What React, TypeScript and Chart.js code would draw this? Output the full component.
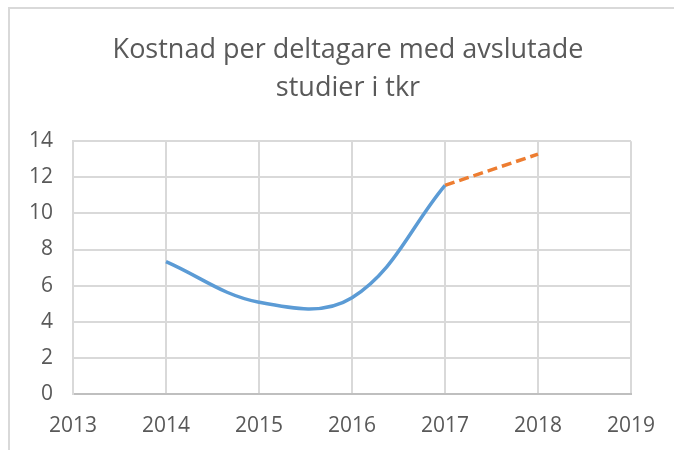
import React, { useEffect, useRef } from "react";
import { Chart, registerables } from "chart.js";

Chart.register(...registerables);

const titleLines = ["Kostnad per deltagare med avslutade", "studier i tkr"];
const actualYears = [2014, 2015, 2016, 2017];
const actualValues = [7.33, 5.08, 5.33, 11.55];
const forecastYears = [2017, 2018];
const forecastValues = [11.55, 13.28];
const xMin = 2013;
const xMax = 2019;
const yMin = 0;
const yMax = 14;
const yStep = 2;

const TEXT = "#595959";
const GRID = "#D9D9D9";
const FONT = "'Open Sans', 'Liberation Sans', Arial, sans-serif";

const framePlugin = {
  id: "frame",
  beforeDraw(chart: any) {
    const ctx = chart.ctx;
    ctx.save();
    ctx.fillStyle = "#ffffff";
    ctx.fillRect(0, 0, chart.width, chart.height);
    ctx.strokeStyle = GRID;
    ctx.lineWidth = 2;
    ctx.beginPath();
    ctx.moveTo(9, chart.height);
    ctx.lineTo(9, 8);
    ctx.lineTo(chart.width, 8);
    ctx.stroke();
    ctx.restore();
  },
};

export default function App() {
  const ref = useRef<HTMLCanvasElement | null>(null);
  useEffect(() => {
    if (!ref.current) return;
    const chart = new Chart(ref.current, {
      type: "line",
      data: {
        datasets: [
          {
            label: "Utfall",
            data: actualYears.map((x, i) => ({ x, y: actualValues[i] })),
            borderColor: "#5B9BD5",
            borderWidth: 3.5,
            pointRadius: 0,
            tension: 0.38,
            fill: false,
          },
          {
            label: "Prognos",
            data: forecastYears.map((x, i) => ({ x, y: forecastValues[i] })),
            borderColor: "#ED7D31",
            borderWidth: 3.5,
            borderDash: [10, 5],
            pointRadius: 0,
            tension: 0,
            fill: false,
          },
        ],
      },
      options: {
        animation: false,
        responsive: false,
        maintainAspectRatio: false,
        layout: { padding: { left: 22, right: 0, top: 0, bottom: 0 } },
        plugins: {
          legend: { display: false },
          tooltip: { enabled: false },
          title: {
            display: true,
            text: titleLines,
            color: TEXT,
            font: { family: FONT, size: 27, weight: "normal", lineHeight: 1.41 },
            padding: { top: 31, bottom: 34 },
          },
        },
        scales: {
          x: {
            type: "linear",
            min: xMin,
            max: xMax,
            ticks: {
              stepSize: 1,
              color: TEXT,
              font: { family: FONT, size: 21 },
              padding: 19,
              callback: (v: any) => String(v),
            },
            grid: { color: GRID, lineWidth: 2, drawTicks: false },
            border: { color: "#BFBFBF", width: 2 },
            afterFit: (s: any) => {
              s.height = 56;
            },
          },
          y: {
            min: yMin,
            max: yMax,
            ticks: {
              stepSize: yStep,
              color: TEXT,
              font: { family: FONT, size: 21 },
              padding: 20,
            },
            grid: { color: GRID, lineWidth: 2, drawTicks: false },
            border: { color: GRID, width: 2 },
            afterFit: (s: any) => {
              s.width = 51;
            },
          },
          yRight: {
            position: "right",
            min: yMin,
            max: yMax,
            ticks: { display: false },
            grid: { display: false, drawTicks: false },
            border: { display: false },
            afterFit: (s: any) => {
              s.width = 39;
            },
          },
        },
      },
      plugins: [framePlugin],
    });
    return () => chart.destroy();
  }, []);
  return (
    <div style={{ position: "absolute", left: 0, top: 0, width: 674, height: 450 }}>
      <canvas ref={ref} width={674} height={450} style={{ width: 674, height: 450 }} />
    </div>
  );
}
